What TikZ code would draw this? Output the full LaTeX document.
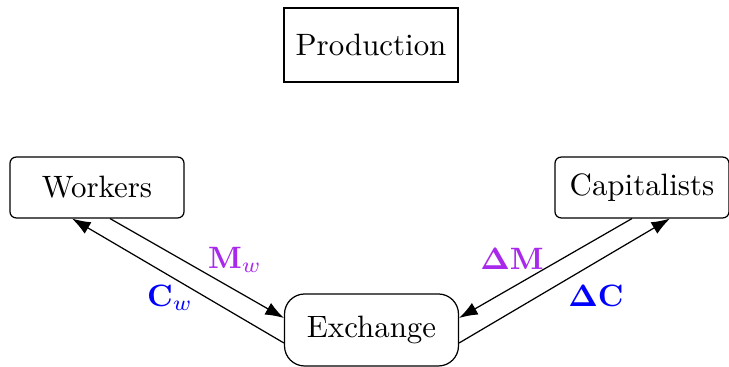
\documentclass[tikz,border=0pt]{standalone}
\usetikzlibrary{arrows.meta,calc}
\definecolor{flowpurple}{RGB}{168,40,235}
\definecolor{flowblue}{RGB}{0,0,255}
\begin{document}
\begin{tikzpicture}[x=0.3236pt,y=-0.3236pt,
  box/.style={draw, minimum width=56.3pt, inner sep=0pt},
  sector/.style={box, minimum height=23.9pt},
  agent/.style={box, minimum height=19.7pt, rounded corners=2pt},
  market/.style={box, minimum height=23.3pt, rounded corners=6.5pt},
  flow/.style={-{Latex[length=6pt,width=4.3pt]}, line width=0.4pt},
  lbl/.style={inner sep=0pt}
]
\useasboundingbox (0,0) rectangle (729,367);

% sectors and classes
\node[sector] (prod) at (371,45) {Production};
\node[agent] (workers) at (97,187.5) {Workers};
\node[agent] (capit) at (642,187.5) {Capitalists};
\node[market] (exch) at (371.5,330) {Exchange};

% workers' side of the exchange
\draw[flow] ($(workers.south)+(13,0)$) -- ($(exch.west)+(0,-12)$);
\draw[flow] ($(exch.west)+(0,13)$) -- ($(workers.south)+(-25,0)$);

% capitalists' side of the exchange
\draw[flow] ($(capit.south)+(-10,0)$) -- ($(exch.east)+(0,-12)$);
\draw[flow] ($(exch.east)+(0,13)$) -- ($(capit.south)+(28,0)$);

% flow labels
\node[lbl, text=flowpurple] (mw) at (235,260) {$\mathbf{M}_w$};
\node[lbl, text=flowblue] (cw) at (170,298) {$\mathbf{C}_w$};
\node[lbl, text=flowpurple] (dm) at (512,259) {$\mathbf{\Delta M}$};
\node[lbl, text=flowblue] (dc) at (596,296) {$\mathbf{\Delta C}$};
\end{tikzpicture}
\end{document}
